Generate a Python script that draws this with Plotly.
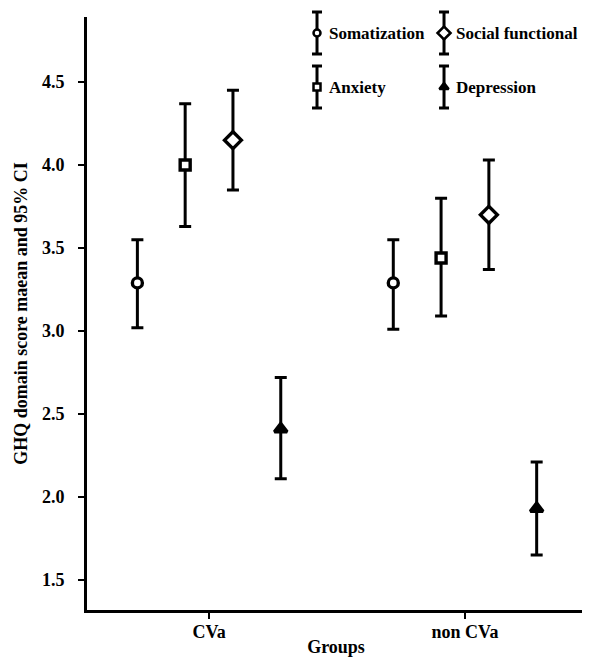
import plotly.graph_objects as go

groups = ["CVa", "non CVa"]
series = ["Somatization", "Anxiety", "Social functional", "Depression"]
means = {
    "Somatization": [3.29, 3.29],
    "Anxiety": [4.00, 3.44],
    "Social functional": [4.15, 3.70],
    "Depression": [2.41, 1.93],
}
lower = {
    "Somatization": [3.02, 3.01],
    "Anxiety": [3.63, 3.09],
    "Social functional": [3.85, 3.37],
    "Depression": [2.11, 1.65],
}
upper = {
    "Somatization": [3.55, 3.55],
    "Anxiety": [4.37, 3.80],
    "Social functional": [4.45, 4.03],
    "Depression": [2.72, 2.21],
}

# legend grid slot (column, row) for each series
legend_slot = {
    "Somatization": (0, 0),
    "Social functional": (1, 0),
    "Anxiety": (0, 1),
    "Depression": (1, 1),
}

styles = {
    "Somatization": dict(symbol="circle", size=10, lsize=7, color="white"),
    "Anxiety": dict(symbol="square", size=10, lsize=7, color="white"),
    "Social functional": dict(symbol="diamond", size=13, lsize=10, color="white"),
    "Depression": dict(symbol="triangle-up", size=11, lsize=8, color="black"),
}

FONT = "Liberation Serif"
fig = go.Figure()
for s in series:
    st = styles[s]
    m = means[s]
    plus = [u - v for u, v in zip(upper[s], m)]
    minus = [v - l for v, l in zip(m, lower[s])]
    fig.add_trace(go.Scatter(
        x=groups, y=m, name=s, mode="markers", showlegend=False,
        offsetgroup=s, alignmentgroup="main",
        marker=dict(symbol=st["symbol"], size=st["size"], color=st["color"],
                    line=dict(color="black", width=3.4)),
        error_y=dict(type="data", symmetric=False, array=plus, arrayminus=minus,
                     color="black", thickness=3, width=6),
    ))

# custom legend (icons show error bars as in the original)
for s in series:
    st = styles[s]
    col, row = legend_slot[s]
    fig.add_trace(go.Scatter(
        x=[col], y=[row], xaxis="x2", yaxis="y2", mode="markers", showlegend=False,
        offsetgroup="legend", alignmentgroup="legend",
        cliponaxis=False, hoverinfo="skip",
        marker=dict(symbol=st["symbol"], size=st["lsize"], color=st["color"],
                    line=dict(color="black", width=2.5)),
        error_y=dict(type="constant", value=0.39, color="black", thickness=3, width=5),
    ))
    fig.add_annotation(x=col, y=row, xref="x2", yref="y2", text=s, showarrow=False,
                       xanchor="left", yanchor="middle", xshift=10,
                       font=dict(family=FONT, size=17, color="black", weight="bold"))

fig.update_layout(
    width=582, height=657,
    margin=dict(l=79, r=5, t=0, b=55, autoexpand=False),
    paper_bgcolor="white", plot_bgcolor="rgba(0,0,0,0)",
    scattermode="group", scattergap=0.253,
    font=dict(family=FONT, size=18, color="black", weight="bold"),
    showlegend=False,
    xaxis=dict(type="category", range=[-0.477, 1.469], showline=True, linecolor="black",
               linewidth=3, ticks="outside", ticklen=6, tickwidth=2, tickcolor="black",
               showgrid=False, zeroline=False, automargin=False, ticklabelstandoff=-3,
               tickfont=dict(family=FONT, size=18, weight="bold"),
               title=dict(text="Groups", font=dict(family=FONT, size=18, weight="bold"), standoff=0)),
    yaxis=dict(domain=[0, 0.98505], range=[1.319, 4.892],
               tickvals=[1.5, 2.0, 2.5, 3.0, 3.5, 4.0, 4.5],
               ticktext=["1.5", "2.0", "2.5", "3.0", "3.5", "4.0", "4.5"],
               showline=True, linecolor="black", linewidth=3, ticks="outside",
               ticklen=6, tickwidth=2, tickcolor="black", showgrid=False, zeroline=False,
               automargin=False, ticklabelstandoff=10,
               tickfont=dict(family=FONT, size=18, weight="bold"),
               title=dict(text="GHQ domain score maean and 95% CI",
                          font=dict(family=FONT, size=18, weight="bold"), standoff=10)),
    xaxis2=dict(domain=[0, 1], range=[-1.811, 2.110], anchor="y2",
                visible=False, fixedrange=True),
    yaxis2=dict(domain=[0, 1], range=[10.685, -0.463], anchor="x2",
                visible=False, fixedrange=True),
)

fig.write_html("out.html")
